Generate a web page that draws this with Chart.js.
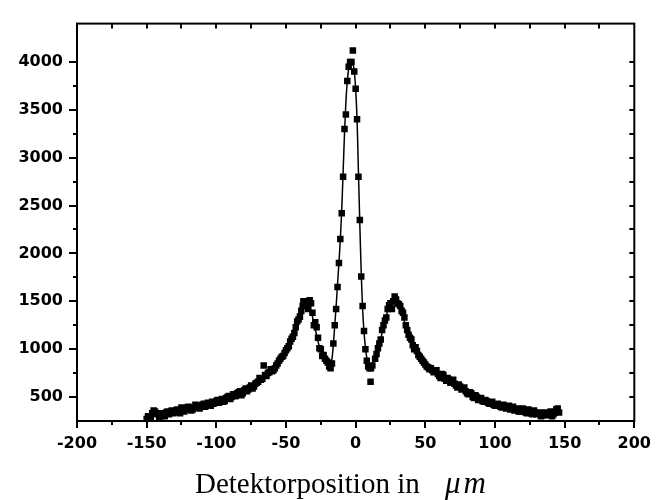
<!DOCTYPE html>
<html>
<head>
<meta charset="utf-8">
<script src="https://cdn.jsdelivr.net/npm/chart.js@4.4.1/dist/chart.umd.min.js"></script>
<style>
  html, body { margin: 0; padding: 0; background: #fff; }
  #wrap { position: relative; width: 664px; height: 500px; overflow: hidden; }
  #xTitle {
    position: absolute; left: 195px; top: 468px; white-space: nowrap;
    font: 29px/29px "Liberation Serif", "Times New Roman", serif; color: #000;
  }
  #xTitle i { margin-left: 18px; font-size: 31px; letter-spacing: 3px; }
</style>
</head>
<body>
<div id="wrap">
  <canvas id="c" width="664" height="500"></canvas>
  <div id="xTitle">Detektorposition in <i>μm</i></div>
</div>
<script>
const ptX = [
  -150, -148, -146, -144, -142, -140, -138, -136, -134, -132,
  -130, -128, -126, -124, -122, -120, -118, -116, -114, -112,
  -110, -108, -106, -104, -102, -100, -98, -96, -94, -92,
  -90, -88, -86, -84, -82, -80, -78, -76, -74, -72,
  -70, -68, -66, -64, -62, -60, -58, -56, -54, -52,
  -50, -48, -46, -44, -42, -40, -38, -36, -34, -32,
  -30, -28, -26, -24, -22, -20, -18, -16, -14, -12,
  -10, -8, -6, -4, -2, 0, 2, 4, 6, 8,
  10, 12, 14, 16, 18, 20, 22, 24, 26, 28,
  30, 32, 34, 36, 38, 40, 42, 44, 46, 48,
  50, 52, 54, 56, 58, 60, 62, 64, 66, 68,
  70, 72, 74, 76, 78, 80, 82, 84, 86, 88,
  90, 92, 94, 96, 98, 100, 102, 104, 106, 108,
  110, 112, 114, 116, 118, 120, 122, 124, 126, 128,
  130, 132, 134, 136, 138, 140, 142, 144, 146,
  -15, -13, -11, -9, -7, -5, -3, -1, 1, 3,
  5, 7, 9, 11, 10.7, -19, -17, 27, 29, -35,
  -37, 31,
  -149, -147, -145, -143, -141, -139, -137, -135, -133, -131,
  -129, -127, -125, -123, -121, -119, -117, -115, -113, -111,
  -109, -107, -105, -103, -101, -99, -97, -95, -93, -91,
  -89, -87, -85, -83, -81, -79, -77, -75, -73, -71,
  -69, -67, -65, -63, -61, -59, -57, -55, -53, -51,
  -49, -47, -45, -43, -41, -39, -37.5, -34.5, -33, -31,
  -29, -27, -25, -23, -21,
  15, 17, 19, 21, 23, 25, 33, 35, 37, 39,
  41, 43, 45, 47, 49, 51, 53, 55, 57, 59,
  61, 63, 65, 67, 69, 71, 73, 75, 77, 79,
  81, 83, 85, 87, 89, 91, 93, 95, 97, 99,
  101, 103, 105, 107, 109, 111, 113, 115, 117, 119,
  121, 123, 125, 127, 129, 131, 133, 135, 137, 139,
  141, 143, 145,
];
const ptY = [
  270, 300, 330, 350, 320, 300, 310, 340, 320, 360,
  340, 370, 330, 380, 370, 400, 360, 390, 410, 380,
  420, 400, 440, 410, 430, 460, 440, 480, 460, 500,
  480, 530, 510, 550, 520, 570, 560, 600, 590, 640,
  660, 680, 830, 720, 760, 770, 800, 850, 900, 930,
  990, 1030, 1110, 1170, 1290, 1340, 1450, 1490, 1420, 1480,
  1250, 1230, 1010, 930, 900, 860, 800, 1060, 1420, 1900,
  2420, 3300, 3800, 4000, 4120, 3720, 2800, 1760, 1190, 880,
  800, 830, 900, 1010, 1100, 1250, 1330, 1460, 1420, 1550,
  1480, 1450, 1380, 1250, 1150, 1100, 1000, 980, 920, 880,
  840, 810, 800, 760, 780, 720, 740, 690, 700, 650,
  680, 620, 630, 580, 600, 540, 550, 500, 520, 470,
  490, 450, 460, 430, 450, 410, 430, 400, 420, 380,
  410, 390, 360, 380, 350, 380, 340, 370, 330, 360,
  320, 340, 310, 340, 320, 350, 320, 370, 340,
  1250, 1650, 2150, 2800, 3450, 3950, 4000, 3900, 3400, 2350,
  1450, 1000, 820, 800, 660, 820, 850, 1500, 1520, 1500,
  1460, 1470,
  300, 280, 360, 330, 290, 330, 300, 350, 340, 330,
  360, 350, 390, 350, 390, 380, 370, 420, 400, 400,
  430, 420, 410, 450, 440, 470, 460, 450, 490, 510,
  500, 510, 540, 560, 540, 590, 580, 620, 610, 650,
  700, 690, 730, 750, 790, 780, 830, 880, 920, 960,
  1010, 1080, 1130, 1230, 1310, 1400, 1500, 1450, 1510, 1380,
  1280, 1120, 1000, 940, 880,
  950, 1060, 1200, 1300, 1420, 1480, 1400, 1330, 1200, 1120,
  1040, 1020, 940, 900, 860, 820, 790, 780, 770, 740,
  700, 730, 670, 680, 660, 640, 600, 610, 590, 560,
  530, 540, 490, 500, 480, 460, 470, 440, 440, 420,
  420, 410, 390, 400, 390, 370, 400, 370, 350, 370,
  360, 330, 350, 320, 340, 330, 300, 320, 310, 330,
  300, 340, 380,
];

// fitted curve
const fitX = [
  -150, -145, -140, -135, -130, -125, -120, -115, -110, -105,
  -100, -95, -90, -85, -80, -75, -70, -65, -60, -55,
  -50, -47, -44, -41, -39, -37, -35, -33, -31, -29,
  -27, -25, -23, -21, -19, -18, -17, -16, -15, -14,
  -13, -12, -11, -10, -9, -8, -7, -6, -5, -4,
  -3, -2, -1, 0, 1, 2, 3, 4, 5, 6,
  7, 8, 9, 10, 12, 14, 16, 18, 20, 22,
  24, 26, 28, 30, 32, 34, 36, 38, 40, 43,
  46, 50, 55, 60, 65, 70, 75, 80, 85, 90,
  95, 100, 105, 110, 115, 120, 125, 130, 135, 140,
  145,
];
const fitY = [
  280, 300, 320, 335, 350, 365, 385, 400, 415, 430,
  450, 470, 495, 525, 560, 600, 650, 700, 760, 860,
  980, 1070, 1190, 1320, 1410, 1470, 1490, 1440, 1340, 1210,
  1080, 980, 910, 860, 835, 845, 900, 1050, 1250, 1450,
  1680, 1900, 2150, 2450, 2850, 3250, 3580, 3800, 3930, 4000,
  4020, 3990, 3900, 3720, 3400, 2850, 2300, 1800, 1420, 1180,
  1020, 910, 850, 820, 850, 920, 1000, 1110, 1230, 1350,
  1440, 1500, 1520, 1500, 1430, 1340, 1240, 1150, 1080, 1000,
  930, 850, 800, 750, 700, 660, 615, 565, 515, 475,
  445, 425, 410, 395, 380, 365, 355, 345, 335, 330,
  325,
];

const X_MIN = -200, X_MAX = 200, X_STEP = 25;
const Y_MIN = 250, Y_MAX = 4400, Y_STEP = 250;

const tickFont = { family: "DejaVu Sans", size: 16, weight: "bold" };

// frame + tick marks (left/bottom point out, top/right point in)
const frameTicks = {
  id: "frameTicks",
  afterDraw(chart) {
    const { ctx, chartArea: a, scales } = chart;
    const sx = scales.x, sy = scales.y;
    ctx.save();
    ctx.strokeStyle = "#000";
    ctx.lineWidth = 2;
    ctx.strokeRect(a.left, a.top, a.right - a.left, a.bottom - a.top);
    ctx.beginPath();
    sx.ticks.forEach((t) => {
      const px = Math.round(sx.getPixelForValue(t.value));
      const major = t.value % 50 === 0;
      ctx.moveTo(px, a.bottom);
      ctx.lineTo(px, a.bottom + (major ? 7 : 4));
      if (t.value > X_MIN && t.value < X_MAX) {
        ctx.moveTo(px, a.top);
        ctx.lineTo(px, a.top + 5);
      }
    });
    sy.ticks.forEach((t) => {
      if (t.value >= Y_MAX || t.value <= Y_MIN) return;
      const py = Math.round(sy.getPixelForValue(t.value));
      const major = t.value % 500 === 0;
      ctx.moveTo(a.left, py);
      ctx.lineTo(a.left - (major ? 8 : 4), py);
      ctx.moveTo(a.right, py);
      ctx.lineTo(a.right - 5, py);
    });
    ctx.stroke();
    ctx.restore();
  },
};

new Chart(document.getElementById("c"), {
  type: "scatter",
  data: {
    datasets: [
      {
        label: "Messpunkte",
        data: ptX.map((x, i) => ({ x, y: ptY[i] })),
        pointStyle: "rect",
        pointRadius: 4.6,
        backgroundColor: "#000",
        borderColor: "#000",
        borderWidth: 0,
      },
      {
        label: "Fit",
        data: fitX.map((x, i) => ({ x, y: fitY[i] })),
        showLine: true,
        pointRadius: 0,
        borderColor: "#000",
        borderWidth: 1.5,
        tension: 0.3,
      },
    ],
  },
  options: {
    responsive: false,
    animation: false,
    devicePixelRatio: 1,
    layout: { padding: { left: 0, right: 24, top: 13, bottom: 39 } },
    plugins: { legend: { display: false }, tooltip: { enabled: false } },
    scales: {
      x: {
        type: "linear",
        min: X_MIN,
        max: X_MAX,
        afterFit: (s) => (s.height = 40),
        border: { display: false },
        grid: { display: false, drawTicks: false },
        ticks: {
          stepSize: X_STEP,
          autoSkip: false,
          maxRotation: 0,
          padding: 13,
          color: "#000",
          font: tickFont,
          callback: (v) => (v % 50 === 0 ? String(v) : ""),
        },
      },
      y: {
        type: "linear",
        min: Y_MIN,
        max: Y_MAX,
        afterFit: (s) => (s.width = 77),
        border: { display: false },
        grid: { display: false, drawTicks: false },
        ticks: {
          stepSize: Y_STEP,
          autoSkip: false,
          padding: 14,
          color: "#000",
          font: tickFont,
          callback: (v) => (v % 500 === 0 && v < Y_MAX ? String(v) : ""),
        },
      },
    },
  },
  plugins: [frameTicks],
});
</script>
</body>
</html>
